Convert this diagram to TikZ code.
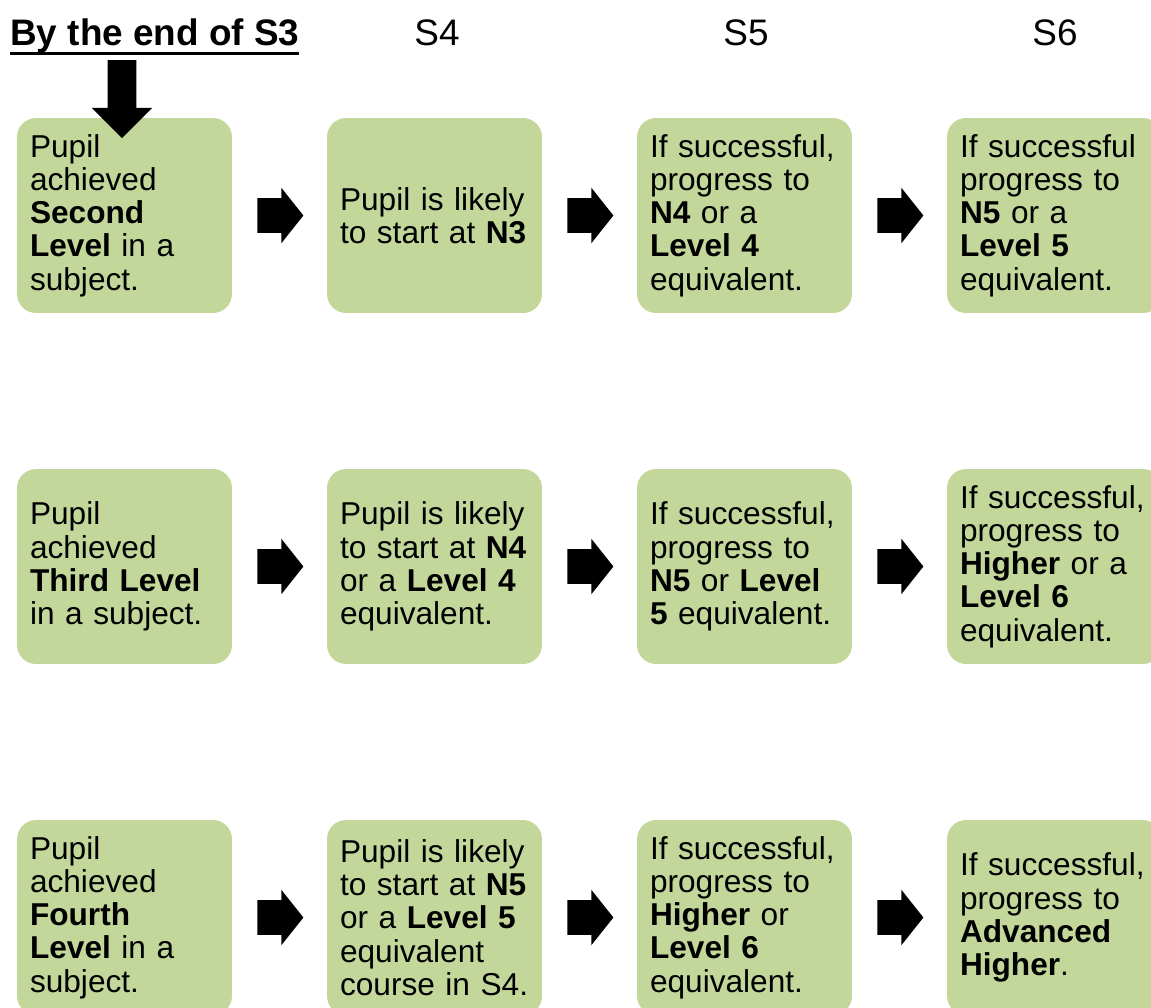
\documentclass[tikz,border=0pt]{standalone}
\usepackage{fontspec}
\setmainfont{Liberation Sans}
\usetikzlibrary{shapes.arrows,calc}

\definecolor{boxgreen}{HTML}{C4D79B}

% подчёркивание заголовка
\newsavebox{\hdbox}
\newcommand{\hdunder}[1]{\sbox{\hdbox}{#1}\rlap{\rule[-5pt]{\wd\hdbox}{1.8pt}}\usebox{\hdbox}}

\tikzset{
  stage/.style={fill=boxgreen, rounded corners=0.38cm, text width=3.78cm,
    inner xsep=0.26cm, inner ysep=0pt, minimum height=3.9cm, align=left,
    font=\fontsize{18}{18.9}\selectfont},
  nextarrow/.style={single arrow, fill=black, inner xsep=0pt, inner ysep=0.34cm,
    minimum height=0.92cm, minimum width=0pt, xshift=-0.12cm,
    single arrow head extend=0.21cm, single arrow tip angle=103},
  downarrow/.style={single arrow, fill=black, inner xsep=0pt, inner ysep=0.28cm,
    rotate=-90, minimum height=1.56cm, minimum width=0pt,
    single arrow head extend=0.32cm, single arrow tip angle=90},
  yearlabel/.style={anchor=base, inner sep=0pt, font=\fontsize{21}{24}\selectfont}
}

\begin{document}
\begin{tikzpicture}[x=0.02cm, y=-0.02cm]
\clip (0,0) rectangle (1151,1007);

% Заголовки
\node[yearlabel, anchor=base west, font=\fontsize{21}{24}\selectfont\bfseries] (s3) at (10,46) {\hdunder{By the end of S3}};
\node[yearlabel] (s4) at (437,46) {S4};
\node[yearlabel] (s5) at (746,46) {S5};
\node[yearlabel] (s6) at (1055,46) {S6};

% Ряд 1
\node[stage] (b11) at (124.5,215.5) {Pupil\\achieved\\\textbf{Second}\\\textbf{Level} in a\\subject.};
\node[stage] (b12) at (434.5,215.5) {Pupil is likely\\to start at \textbf{N3}};
\node[stage] (b13) at (744.5,215.5) {If successful,\\progress to\\\textbf{N4} or a\\\textbf{Level 4}\\equivalent.};
\node[stage] (b14) at (1054.5,215.5) {If successful\\progress to\\\textbf{N5} or a\\\textbf{Level 5}\\equivalent.};

% Ряд 2
\node[stage] (b21) at (124.5,566.5) {Pupil\\achieved\\\textbf{Third Level}\\in a subject.};
\node[stage] (b22) at (434.5,566.5) {Pupil is likely\\to start at \textbf{N4}\\or a \textbf{Level 4}\\equivalent.};
\node[stage] (b23) at (744.5,566.5) {If successful,\\progress to\\\textbf{N5} or \textbf{Level}\\\textbf{5} equivalent.};
\node[stage] (b24) at (1054.5,566.5) {If successful,\\progress to\\\textbf{Higher} or a\\\textbf{Level 6}\\equivalent.};

% Ряд 3
\node[stage] (b31) at (124.5,917.5) {Pupil\\achieved\\\textbf{Fourth}\\\textbf{Level} in a\\subject.};
\node[stage] (b32) at (434.5,917.5) {Pupil is likely\\to start at \textbf{N5}\\or a \textbf{Level 5}\\equivalent\\course in S4.};
\node[stage] (b33) at (744.5,917.5) {If successful,\\progress to\\\textbf{Higher} or\\\textbf{Level 6}\\equivalent.};
\node[stage] (b34) at (1054.5,917.5) {If successful,\\progress to\\\textbf{Advanced}\\\textbf{Higher}.};

% Стрелки
\foreach \r in {1,2,3} {
\foreach \c/\n in {1/2, 2/3, 3/4}
    \node[nextarrow] (a\r\c) at ($(b\r\c.east)!0.5!(b\r\n.west)$) {};
}
\node[downarrow] (down) at (122,92) {};
\end{tikzpicture}
\end{document}
